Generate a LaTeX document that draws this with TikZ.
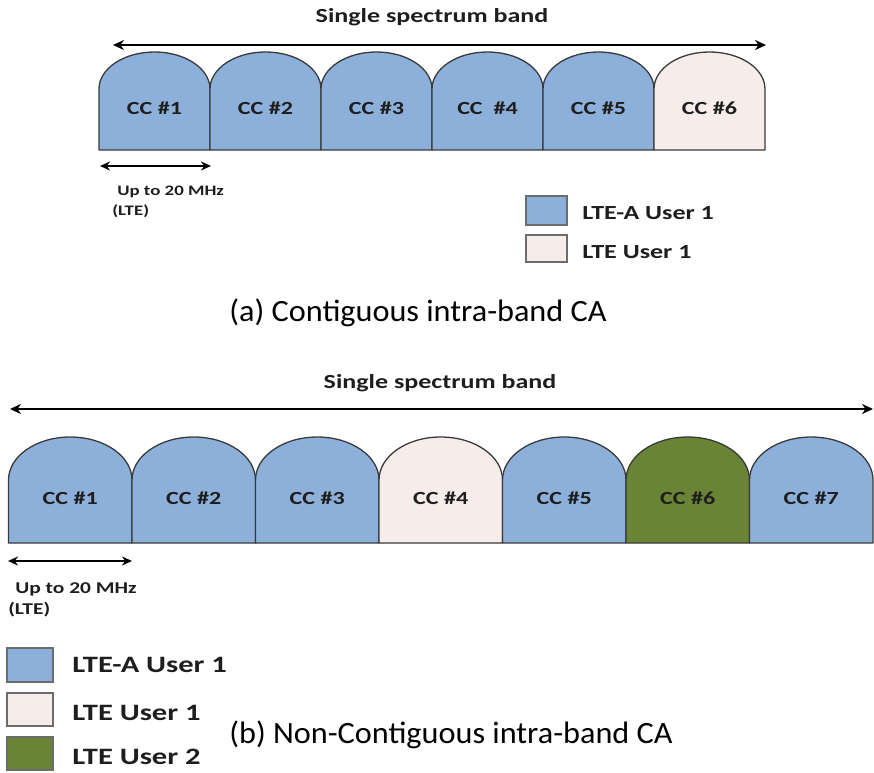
\documentclass[tikz,border=0pt]{standalone}
\usepackage{fontspec}
\setmainfont{Carlito}
\usetikzlibrary{arrows.meta}
\definecolor{lteaFill}{HTML}{8DB0DB}
\definecolor{lteoneFill}{HTML}{F6EDEB}
\definecolor{ltetwoFill}{HTML}{6A8436}
\definecolor{edgeGray}{HTML}{3A3A3A}
\definecolor{textDark}{HTML}{1E1E1E}

% one component carrier: straight sides, elliptic cap
% #1 left x, #2 half width, #3 base y, #4 shoulder y, #5 cap height, #6 fill
\newcommand\carrier[6]{%
  \draw[ccedge, fill=#6] (#1,#3) -- (#1,#4)
    arc[start angle=180, end angle=0, x radius=#2pt, y radius=#5pt]
    -- ({#1+2*#2},#3) -- cycle;}

\begin{document}
\begin{tikzpicture}[x=1pt, y=1pt,
  wide/.style={xscale=1.3, transform shape, inner sep=0pt},
  ccedge/.style={draw=edgeGray, line width=1.3pt, line join=round},
  cclabel/.style={wide, text=textDark, font=\bfseries\fontsize{18.5}{20}\selectfont},
  bandarrow/.style={line width=2.4pt, {Stealth[length=11pt,width=10pt]}-{Stealth[length=11pt,width=10pt]}},
  widtharrow/.style={line width=2.2pt, {Stealth[length=10pt,width=9pt]}-{Stealth[length=10pt,width=9pt]}},
  bandtitle/.style={wide, text=textDark, font=\bfseries\fontsize{20}{22}\selectfont},
  smallnote/.style={wide, anchor=west, text=textDark, font=\bfseries\fontsize{#1}{#1}\selectfont},
  legendbox/.style={draw=gray!85!black, line width=1.4pt},
  legendtext/.style={wide, anchor=west, text=textDark, font=\bfseries\fontsize{#1}{#1}\selectfont},
  caption/.style={anchor=base, xscale=1.04, transform shape, font=\fontsize{31}{34}\selectfont}]
\useasboundingbox (0,0) rectangle (874,772);

% ---------------- (a) contiguous ----------------
\node[bandtitle] (titleA) at (432,755) {Single spectrum band};
\coordinate (bandAl) at (113,727);
\coordinate (bandAr) at (766,727);
\draw[bandarrow] (bandAl) -- (bandAr);

\foreach \i/\c/\t in {1/lteaFill/CC \#1, 2/lteaFill/CC \#2, 3/lteaFill/CC \#3,
                      4/lteaFill/CC\ \ \#4, 5/lteaFill/CC \#5, 6/lteoneFill/CC \#6}{
  \pgfmathsetmacro\xl{99+(\i-1)*111}
  \carrier{\xl}{55.5}{622}{683}{37}{\c}
  \node[cclabel] (ccA\i) at ({\xl+55.5},664) {\t};
}

\coordinate (widthAl) at (100,606);
\coordinate (widthAr) at (211,606);
\draw[widtharrow] (widthAl) -- (widthAr);
\node[smallnote=14.5] (upA) at (117,580) {Up to 20 MHz};
\node[smallnote=14.5] (lteA) at (112,561) {(LTE)};

\draw[legendbox, fill=lteaFill] (526,547) rectangle (567,576);
\node[legendtext=20] (legA1) at (582,559) {LTE-A User 1};
\draw[legendbox, fill=lteoneFill] (526,510) rectangle (567,537);
\node[legendtext=20] (legA2) at (582,520) {LTE User 1};

\node[caption] (capA) at (418,450) {(a) Contiguous intra-band CA};

% ---------------- (b) non-contiguous ----------------
\node[bandtitle] (titleB) at (440,389) {Single spectrum band};
\coordinate (bandBl) at (10,363);
\coordinate (bandBr) at (873,363);
\draw[bandarrow] (bandBl) -- (bandBr);

\foreach \i/\c in {1/lteaFill, 2/lteaFill, 3/lteaFill, 4/lteoneFill,
                   5/lteaFill, 6/ltetwoFill, 7/lteaFill}{
  \pgfmathsetmacro\xl{8.5+(\i-1)*123.5}
  \carrier{\xl}{61.75}{229}{292}{43}{\c}
  \node[cclabel] (ccB\i) at ({\xl+61.75},274) {CC \#\i};
}

\coordinate (widthBl) at (8,211);
\coordinate (widthBr) at (132,211);
\draw[widtharrow] (widthBl) -- (widthBr);
\node[smallnote=16.5] (upB) at (15,183) {Up to 20 MHz};
\node[smallnote=16.5] (lteB) at (8,162) {(LTE)};

\draw[legendbox, fill=lteaFill] (7,90) rectangle (53,124);
\node[legendtext=23.5] (legB1) at (72,107) {LTE-A User 1};
\draw[legendbox, fill=lteoneFill] (7,46) rectangle (53,79);
\node[legendtext=23.5] (legB2) at (72,59) {LTE User 1};
\draw[legendbox, fill=ltetwoFill] (7,2) rectangle (53,35);
\node[legendtext=23.5] (legB3) at (72,15) {LTE User 2};

\node[caption] (capB) at (451,29) {(b) Non-Contiguous intra-band CA};
\end{tikzpicture}
\end{document}
